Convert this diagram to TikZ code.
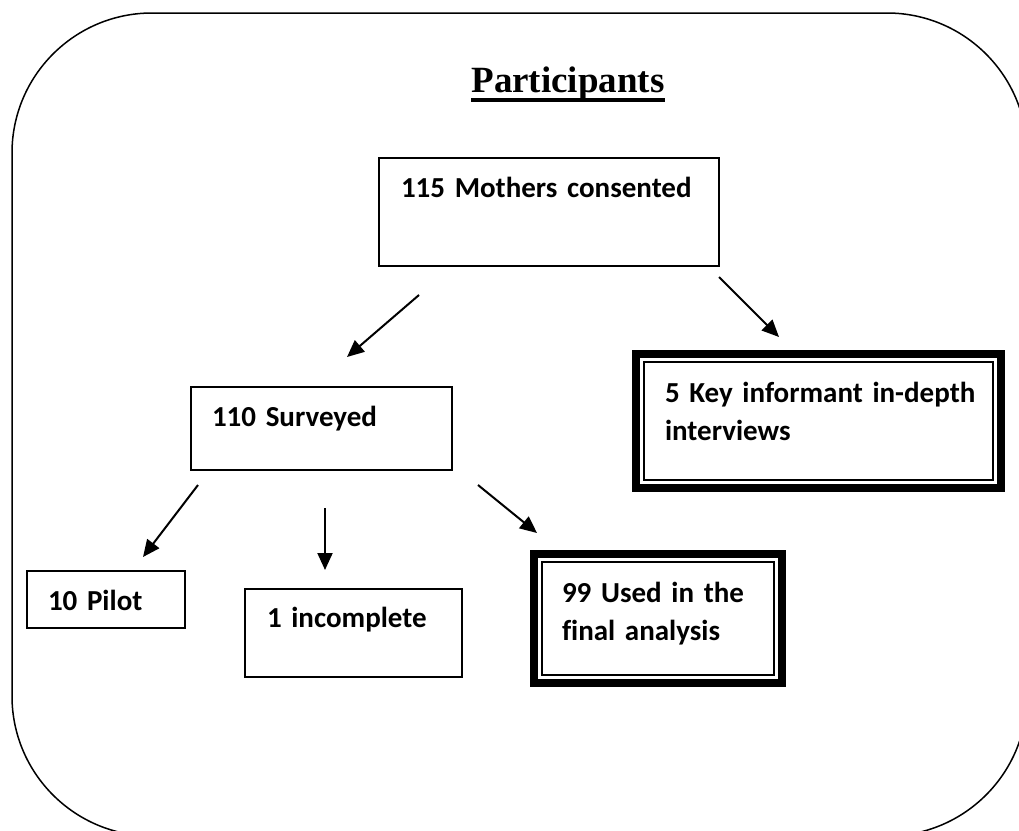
\documentclass[tikz,border=0pt]{standalone}
\usepackage{fontspec}
\setmainfont{Carlito}[Ligatures = NoCommon]
\newfontfamily\titlefont{Liberation Serif}
\usetikzlibrary{arrows.meta}

\newcommand{\boxfont}{\fontsize{29}{38}\selectfont\bfseries}

\tikzset{
	box/.style = {draw, line width = 2pt, outer sep = 0pt, inner ysep = 0pt, anchor = north west, align = left, font = \boxfont},
	dbox/.style = {box, line width = 8pt},
	inframe/.style = {draw, line width = 2pt},
	arr/.style = {line width = 2pt, -{Triangle[length = 17pt, width = 15pt]}},
}

\begin{document}
\begin{tikzpicture}[x = 1pt, y = -1pt]
	 \useasboundingbox (0, 0) rectangle (1019, 830);
	 
	 % outer rounded frame, cut by the page
	 \begin{scope}
	 \clip (0, 0) rectangle (1019, 830);
	 \draw[line width = 1.5pt, rounded corners = 140pt] (12, 13) rectangle (1027, 836);
	 \end{scope}
	 
	 \node[font = {\titlefont\fontsize{37}{40}\selectfont\bfseries}, inner sep = 0pt, anchor = base] (title) at (568, 92) {Participants};
	 \draw[line width = 3.5pt] ([shift = {(0, 8)}]title.base west) -- ([shift = {(0, 8)}]title.base east);
	 
	 \node[box, inner xsep = 22pt, text width = 296pt, text height = 39pt, text depth = 69pt] (mothers) at (379, 158) {115 Mothers consented};
	 
	 \node[box, inner xsep = 21pt, text width = 219pt, text height = 39pt, text depth = 44pt] (surveyed) at (191, 387) {110 Surveyed};
	 
	 \node[dbox, inner xsep = 29pt, text width = 307pt, text height = 48pt, text depth = 86pt] (keyinf) at (636, 354) {\mbox{5 Key informant in-depth}\\interviews};
	 \draw[inframe] ([shift = {(8, 8)}]keyinf.north west) rectangle ([shift = {(-8, -8)}]keyinf.south east);
	 
	 \node[box, inner xsep = 21pt, text width = 116pt, text height = 39pt, text depth = 18pt] (pilot) at (27, 571) {10 Pilot};
	 
	 \node[box, inner xsep = 22pt, text width = 173pt, text height = 38pt, text depth = 50pt] (incomplete) at (245, 589) {1 incomplete};
	 
	 \node[dbox, inner xsep = 28pt, text width = 192pt, text height = 48pt, text depth = 81pt] (usedfinal) at (534, 554) {99 Used in the\\final analysis};
	 \draw[inframe] ([shift = {(8, 8)}]usedfinal.north west) rectangle ([shift = {(-8, -8)}]usedfinal.south east);
	 
	 % arrows
	 \draw[arr] ([shift = {(40, 29)}]mothers.south west) -- ([shift = {(156, -30)}]surveyed.north west);
	 \draw[arr] ([shift = {(0, 11)}]mothers.south east) -- ([shift = {(143, -17)}]keyinf.north west);
	 \draw[arr] ([shift = {(7, 15)}]surveyed.south west) -- ([shift = {(116, -14)}]pilot.north west);
	 \draw[arr] ([shift = {(134, 38)}]surveyed.south west) -- ([shift = {(80, -19)}]incomplete.north west);
	 \draw[arr] ([shift = {(26, 15)}]surveyed.south east) -- ([shift = {(3, -21)}]usedfinal.north west);
\end{tikzpicture}
\end{document}
